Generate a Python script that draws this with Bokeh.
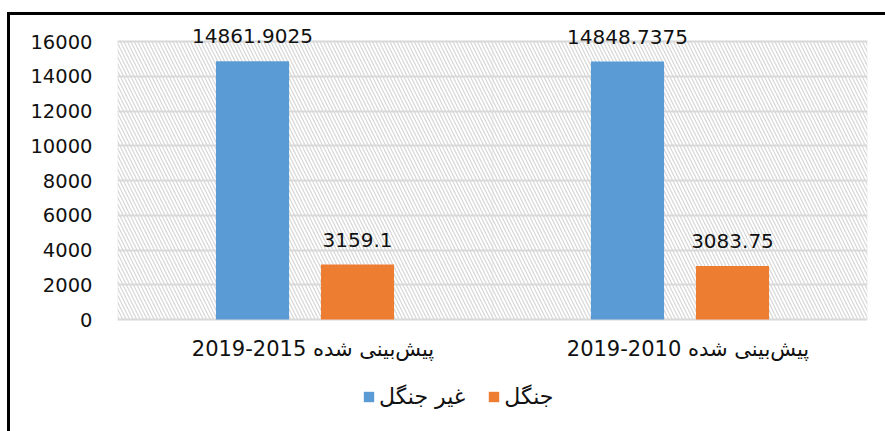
from bokeh.plotting import figure
from bokeh.models import (ColumnDataSource, Range1d, FixedTicker, BoxAnnotation,
                          LabelSet, Legend, LegendItem)
from bokeh.transform import dodge
from bokeh.core.properties import value
from bokeh.embed import file_html
from bokeh.resources import INLINE

# ---- data ----
categories = ["2019-2015 پیش\u200cبینی شده", "2019-2010 پیش\u200cبینی شده"]
non_forest = [14861.9025, 14848.7375]   # غیر جنگل
forest = [3159.1, 3083.75]              # جنگل
non_forest_labels = ["14861.9025", "14848.7375"]
forest_labels = ["3159.1", "3083.75"]
y_ticks = [0, 2000, 4000, 6000, 8000, 10000, 12000, 14000, 16000]
y_max = 16000
series_names = ["غیر جنگل", "جنگل"]

src = ColumnDataSource(dict(cat=categories, nf=non_forest, f=forest,
                            nfl=non_forest_labels, fl=forest_labels,
                            base=[0] * len(categories)))

BLUE = "#5B9BD5"
ORANGE = "#ED7D31"
GRID = "#d9d9d9"
FONT = "DejaVu Sans"

# frame geometry (px): value axis 0..16000 occupies 278 px; frame extends
# 16 px above it (for the value labels) and 112 px below it (category labels, legend)
AXIS_H, ABOVE, BELOW = 278, 16, 112
FRAME_H = AXIS_H + ABOVE + BELOW
y_lo = -y_max * BELOW / AXIS_H
y_hi = y_max * (AXIS_H + ABOVE) / AXIS_H

p = figure(x_range=categories, y_range=Range1d(y_lo, y_hi),
           frame_width=750, frame_height=FRAME_H,
           min_border_left=107, min_border_right=18,
           min_border_top=10, min_border_bottom=0,
           output_backend="svg", toolbar_location=None)
p.margin = (12, 0, 0, 7)
p.styles = {"border-left": "3px solid black", "border-top": "3px solid black"}

p.outline_line_color = None
p.background_fill_color = "white"
p.border_fill_color = "white"

# hatched plot-area background with light outline
plot_area = BoxAnnotation(bottom=0, top=y_max, fill_color=None, line_color=GRID, line_width=2,
                          hatch_pattern="\\", hatch_color="#d6d6d6", hatch_scale=7,
                          hatch_weight=1.2, level="image")
p.add_layout(plot_area)

p.xgrid.grid_line_color = None
p.ygrid.grid_line_color = GRID
p.ygrid.grid_line_width = 2
p.yaxis.ticker = FixedTicker(ticks=y_ticks)
p.xaxis.visible = False

# category separator
sep = BoxAnnotation(left=1, right=1, bottom=0, top=y_max, fill_color=None,
                    line_color=GRID, line_width=2, level="underlay")
p.add_layout(sep)

r1 = p.vbar(x=dodge("cat", -0.14, range=p.x_range), top="nf", width=0.195,
            source=src, fill_color=BLUE, line_color=None)
r2 = p.vbar(x=dodge("cat", 0.14, range=p.x_range), top="f", width=0.195,
            source=src, fill_color=ORANGE, line_color=None)

for field, lab, off in (("nf", "nfl", -0.14), ("f", "fl", 0.14)):
    ls = LabelSet(x=dodge("cat", off, range=p.x_range), y=field, text=lab, source=src,
                  text_align="center", text_baseline="alphabetic", y_offset=18,
                  text_font=value(FONT), text_font_size=value("20px"), text_color="#111111")
    p.add_layout(ls)

# category labels under the value-axis baseline
cat_labels = LabelSet(x="cat", y="base", text="cat", source=src,
                      text_align="center", text_baseline="middle", y_offset=-29, x_offset=8,
                      text_font=value(FONT), text_font_size=value("21px"), text_color="#111111")
p.add_layout(cat_labels)

p.yaxis.axis_line_color = None
p.yaxis.major_tick_line_color = None
p.yaxis.minor_tick_line_color = None
p.yaxis.major_tick_out = 0
p.yaxis.major_label_text_font = FONT
p.yaxis.major_label_text_color = "#111111"
p.yaxis.major_label_text_font_size = "19.5px"
p.yaxis.major_label_standoff = 25

legend = Legend(items=[LegendItem(label=series_names[0], renderers=[r1]),
                       LegendItem(label=series_names[1], renderers=[r2])],
                location=(245, 22), orientation="horizontal",
                glyph_width=13, glyph_height=13, label_height=20, label_standoff=4, spacing=22,
                padding=0, margin=0, border_line_color=None, background_fill_alpha=0,
                label_text_font=FONT, label_text_font_size="22px", label_text_color="#111111")
p.add_layout(legend, "center")

open("out.html", "w").write(file_html(p, INLINE))
